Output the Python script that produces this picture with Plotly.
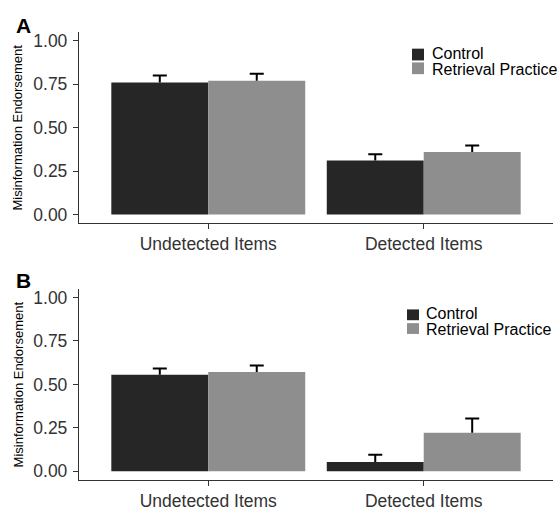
import plotly.graph_objects as go

# Data
categories = ["Undetected Items", "Detected Items"]
groups = ["Control", "Retrieval Practice"]

a_control = [0.76, 0.31]
a_control_se = [0.04, 0.037]
a_retrieval = [0.77, 0.36]
a_retrieval_se = [0.04, 0.037]

b_control = [0.555, 0.053]
b_control_se = [0.036, 0.043]
b_retrieval = [0.572, 0.222]
b_retrieval_se = [0.037, 0.082]

panel_labels = ["A", "B"]
y_title = "Misinformation Endorsement"
y_ticks = [0, 0.25, 0.5, 0.75, 1.0]

colors = {"Control": "#262626", "Retrieval Practice": "#8e8e8e"}
FONT = "Liberation Sans, Arial, sans-serif"
AXIS_COLOR = "#333333"
TEXT_COLOR = "#333333"

W, H = 558, 516
ML, MR, MT, MB = 79, 5, 32, 27
PW, PH = W - ML - MR, H - MT - MB


def px_x(px):
    return (px - ML) / PW


def px_y(py):
    return (H - MB - py) / PH


fig = go.Figure()

panels = [
    ("x", "y", [a_control, a_retrieval], [a_control_se, a_retrieval_se]),
    ("x2", "y2", [b_control, b_retrieval], [b_control_se, b_retrieval_se]),
]
for xa, ya, values, errors in panels:
    # bars with upward-only error stems
    for name, vals, errs in zip(groups, values, errors):
        fig.add_trace(go.Bar(
            x=categories, y=vals, name=name, offsetgroup=name,
            marker=dict(color=colors[name], line=dict(width=0)),
            error_y=dict(type="data", array=errs, arrayminus=[0] * len(errs),
                         symmetric=False, color="black", thickness=2, width=0),
            xaxis=xa, yaxis=ya, showlegend=False,
        ))
    # caps on the top end of each error bar
    for name, vals, errs in zip(groups, values, errors):
        fig.add_trace(go.Scatter(
            x=categories, y=[v + e for v, e in zip(vals, errs)],
            mode="markers", offsetgroup=name,
            marker=dict(symbol="line-ew", size=10, color="black",
                        line=dict(color="black", width=2)),
            xaxis=xa, yaxis=ya, showlegend=False, hoverinfo="skip",
        ))

axis_common = dict(
    showline=True, linecolor=AXIS_COLOR, linewidth=1.3,
    ticks="outside", ticklen=5, tickwidth=1.3, tickcolor=AXIS_COLOR,
    showgrid=False, zeroline=False,
    tickfont=dict(family=FONT, size=17.5, color=TEXT_COLOR),
)
y_common = dict(range=[-0.05, 1.05], tickvals=y_ticks, tickformat=".2f",
                ticklabelstandoff=2, **axis_common)
dom_a = [px_y(227), 1.0]
dom_b = [0.0, px_y(294)]

fig.update_layout(
    width=W, height=H,
    margin=dict(l=ML, r=MR, t=MT, b=MB),
    paper_bgcolor="white", plot_bgcolor="white",
    barmode="group", bargap=0.1, bargroupgap=0,
    scattermode="group", scattergap=0.1,
    font=dict(family=FONT, color=TEXT_COLOR),
    xaxis=dict(domain=[0, 1], anchor="y", range=[-0.6, 1.6], **axis_common),
    yaxis=dict(domain=dom_a, anchor="x", **y_common),
    xaxis2=dict(domain=[0, 1], anchor="y2", range=[-0.6, 1.6], **axis_common),
    yaxis2=dict(domain=dom_b, anchor="x2", **y_common),
)

annotations = []
shapes = []

# Panel letters and y-axis titles
for label, dom, ly in zip(panel_labels, [dom_a, dom_b], [25, 286]):
    annotations.append(dict(
        text=f"<b>{label}</b>", x=px_x(23), y=px_y(ly), xref="paper", yref="paper",
        showarrow=False, xanchor="center", yanchor="middle",
        font=dict(family=FONT, size=21, color="black"),
    ))
    annotations.append(dict(
        text=y_title, textangle=-90, x=px_x(18), y=(dom[0] + dom[1]) / 2,
        xref="paper", yref="paper", showarrow=False,
        xanchor="center", yanchor="middle",
        font=dict(family=FONT, size=13, color="black"),
    ))

# Legends (one per panel)
legend_layout = [
    dict(sq_x=412, text_x=430, rows=[(49, 61, 54), (63, 75, 70.5)]),
    dict(sq_x=407, text_x=424, rows=[(315, 326, 319.5), (329, 340, 335)]),
]
for lg in legend_layout:
    for name, (y0, y1, ty) in zip(groups, lg["rows"]):
        shapes.append(dict(
            type="rect", xref="paper", yref="paper",
            x0=px_x(lg["sq_x"]), x1=px_x(lg["sq_x"] + 12),
            y0=px_y(y1), y1=px_y(y0),
            fillcolor=colors[name], line=dict(width=0),
        ))
        annotations.append(dict(
            text=name, x=px_x(lg["text_x"]), y=px_y(ty),
            xref="paper", yref="paper", showarrow=False,
            xanchor="left", yanchor="middle",
            font=dict(family=FONT, size=16, color="black"),
        ))

fig.update_layout(annotations=annotations, shapes=shapes)

fig.write_html("out.html")
